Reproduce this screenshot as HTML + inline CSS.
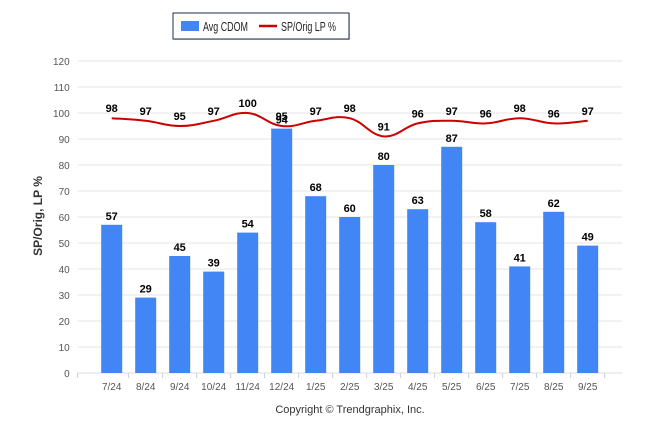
<!DOCTYPE html>
<html><head><meta charset="utf-8"><style>
body{margin:0;background:#fff;font-family:"Liberation Sans",Arial,sans-serif}
svg text{font-family:"Liberation Sans",Arial,sans-serif}
</style></head><body>
<svg id="c" width="646" height="434">
<g>
<rect x="174" y="14" width="176" height="26" fill="#888" opacity="0.4"/>
<rect x="173" y="13" width="176" height="26" fill="#fff" stroke="#1f2d4d" stroke-width="1"/>
<rect x="181" y="21" width="18" height="10" fill="#4285f4"/>
<text x="203" y="31" font-size="13" fill="#222" textLength="45" lengthAdjust="spacingAndGlyphs">Avg CDOM</text>
<line x1="259" y1="26" x2="277" y2="26" stroke="#c00" stroke-width="2.5"/>
<text x="281" y="31" font-size="13" fill="#222" textLength="55" lengthAdjust="spacingAndGlyphs">SP/Orig LP %</text>
</g>
<text x="42" y="216" font-size="12" font-weight="bold" fill="#333" transform="rotate(-90 42 216)" text-anchor="middle">SP/Orig, LP %</text>
<text x="350" y="413" font-size="11" fill="#333" text-anchor="middle">Copyright © Trendgraphix, Inc.</text>
<g id="grid"></g><g id="bars"></g><g id="line"></g><g id="labels"></g>
</svg>
<script>
const categories=["7/24","8/24","9/24","10/24","11/24","12/24","1/25","2/25","3/25","4/25","5/25","6/25","7/25","8/25","9/25"];
const cdom=[57,29,45,39,54,94,68,60,80,63,87,58,41,62,49];
const spOrig=[98,97,95,97,100,95,97,98,91,96,97,96,98,96,97];
const yTicks=[0,10,20,30,40,50,60,70,80,90,100,110,120];
const NS="http://www.w3.org/2000/svg";
const x0=77.7,band=34,yb=373,ppu=2.6,right=622;
const X=i=>x0+band*(i+1);
const Y=v=>yb-v*ppu;
function mk(t,a,p,txt){const e=document.createElementNS(NS,t);for(const k in a)e.setAttribute(k,a[k]);if(txt!=null)e.textContent=txt;document.getElementById(p).appendChild(e);return e;}
yTicks.forEach(v=>{
 const l=mk('line',{x1:x0,x2:right,y1:Y(v),y2:Y(v),stroke:'#e6e6e6','stroke-width':1},'grid');
 
 
 const t=mk('text',{x:x0-8,y:Y(v)+4,'font-size':10,fill:'#555','text-anchor':'end'},'grid',v);
 
 
});
mk('line',{x1:x0,x2:x0,y1:yb,y2:yb+5,stroke:'#ccc'},'grid');
categories.forEach((c,i)=>{
 mk('line',{x1:X(i)+band/2,x2:X(i)+band/2,y1:yb,y2:yb+5,stroke:'#ccc'},'grid');
 const t=mk('text',{x:X(i),y:yb+17,'font-size':10,fill:'#555','text-anchor':'middle'},'grid',c);
 
 
 const b=mk('rect',{x:X(i)-10.5,y:Y(cdom[i]),width:21,height:cdom[i]*ppu,fill:'#4285f4'},'bars');
 
 
 const bl=mk('text',{x:X(i),y:Y(cdom[i])-5,'font-size':11,'font-weight':'bold',fill:'#000','text-anchor':'middle'},'labels',cdom[i]);
 
 
 const ll=mk('text',{x:X(i),y:Y(spOrig[i])-6,'font-size':11,'font-weight':'bold',fill:'#000','text-anchor':'middle'},'labels',spOrig[i]);
 
 
});
mk('line',{x1:x0,x2:right,y1:yb,y2:yb,stroke:'#ddd'},'grid');
const pts=spOrig.map((v,i)=>[X(i),Y(v)]);
let d=`M${pts[0][0]},${pts[0][1]}`;
for(let i=0;i<pts.length-1;i++){
 const p0=pts[i-1]||pts[i],p1=pts[i],p2=pts[i+1],p3=pts[i+2]||p2,t=0.2;
 const c1=[p1[0]+(p2[0]-p0[0])*t,p1[1]+(p2[1]-p0[1])*t];
 const c2=[p2[0]-(p3[0]-p1[0])*t,p2[1]-(p3[1]-p1[1])*t];
 d+=` C${c1[0]},${c1[1]} ${c2[0]},${c2[1]} ${p2[0]},${p2[1]}`;
}
const ln=mk('path',{d:d,fill:'none',stroke:'#c00','stroke-width':2},'line');


</script>
</body></html>
